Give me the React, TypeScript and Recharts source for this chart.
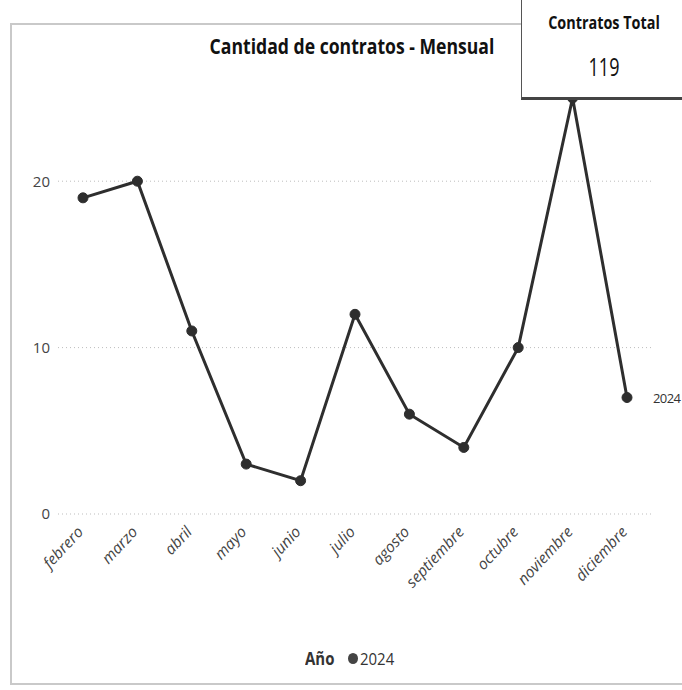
import React from "react";
import { LineChart, Line, XAxis, YAxis, CartesianGrid, Legend, LabelList } from "recharts";

const months = ["febrero", "marzo", "abril", "mayo", "junio", "julio", "agosto", "septiembre", "octubre", "noviembre", "diciembre"];
const contratos2024 = [19, 20, 11, 3, 2, 12, 6, 4, 10, 25, 7];
const yTicks = [0, 10, 20];
const seriesName = "2024";
const legendTitle = "Año";
const chartTitle = "Cantidad de contratos - Mensual";
const cardTitle = "Contratos Total";
const cardValue = 119;

const data = months.map((m, i) => ({ mes: m, v: contratos2024[i] }));

const FONT = "'Open Sans', 'DejaVu Sans', sans-serif";
const LINE = "#2e2e2e";

const XTick = (props: any) => {
  const { x, y, payload } = props;
  return (
    <g transform={`translate(${x - 7},${y + 3}) rotate(-47)`}>
      <text
        x={0}
        y={0}
        dy="0.72em"
        textAnchor="end"
        fill="#444"
        fontSize={15.5}
        fontStyle="italic"
        fontFamily={FONT}
      >
        {payload.value}
      </text>
    </g>
  );
};

const EndLabel = (props: any) => {
  const { x, y, index } = props;
  if (index !== contratos2024.length - 1) return null;
  return (
    <text x={x + 26} y={y} dy={5} fill="#333" fontSize={13} letterSpacing={-0.6} fontFamily={FONT}>
      {seriesName}
    </text>
  );
};

const LegendContent = () => (
  <div
    style={{
      height: 30,
      display: "flex",
      alignItems: "center",
      justifyContent: "center",
      paddingLeft: 20,
      fontFamily: FONT,
      fontSize: 17,
      color: "#333",
    }}
  >
    <span style={{ fontWeight: "bold", marginRight: 12, display: "inline-block", transform: "scaleX(0.88)" }}>
      {legendTitle}
    </span>
    <span
      style={{
        width: 10,
        height: 11,
        borderRadius: "50%",
        background: "#444",
        display: "inline-block",
        marginRight: 2,
      }}
    />
    <span style={{ display: "inline-block", transform: "scaleX(0.88)", transformOrigin: "left center" }}>
      {seriesName}
    </span>
  </div>
);

export default function App() {
  return (
    <div
      style={{
        position: "absolute",
        left: 0,
        top: 0,
        width: 682,
        height: 690,
        overflow: "hidden",
        background: "#fff",
      }}
    >
      <div
        style={{
          position: "absolute",
          left: 10,
          top: 23,
          width: 700,
          height: 662,
          border: "2px solid #c9c9c9",
          boxSizing: "border-box",
        }}
      />
      <div
        style={{
          position: "absolute",
          left: 352,
          top: 30,
          whiteSpace: "nowrap",
          transform: "translateX(-50%) scaleX(0.8)",
          fontFamily: FONT,
          fontWeight: "bold",
          fontSize: 22,
          color: "#111",
        }}
      >
        {chartTitle}
      </div>
      <div style={{ position: "absolute", left: 0, top: 0 }}>
        <LineChart width={682} height={690} data={data} margin={{ top: 98, right: 30, bottom: 17, left: 0 }}>
          <CartesianGrid vertical={false} horizontalValues={yTicks} stroke="#bdbdbd" strokeDasharray="1 3" />
          <XAxis
            dataKey="mes"
            axisLine={false}
            tickLine={false}
            interval={0}
            height={129}
            padding={{ left: 25, right: 25 }}
            tick={<XTick />}
          />
          <YAxis
            domain={[0, 25]}
            ticks={yTicks}
            axisLine={false}
            tickLine={false}
            width={58}
            tick={{ fill: "#444", fontSize: 15, fontFamily: FONT }}
          />
          <Legend verticalAlign="bottom" wrapperStyle={{ left: 0, width: 682 }} content={<LegendContent />} />
          <Line
            type="linear"
            dataKey="v"
            name={seriesName}
            stroke={LINE}
            strokeWidth={3}
            dot={{ r: 5, fill: LINE, stroke: LINE, strokeWidth: 1 }}
            isAnimationActive={false}
          >
            <LabelList dataKey="v" content={<EndLabel />} />
          </Line>
        </LineChart>
      </div>
      <div
        style={{
          position: "absolute",
          left: 521,
          top: -2,
          width: 165,
          height: 102,
          background: "#fff",
          border: "1px solid #555",
          borderBottom: "3px solid #444",
          boxSizing: "border-box",
          fontFamily: FONT,
          color: "#111",
        }}
      >
        <div
          style={{
            position: "absolute",
            left: 82,
            top: 11,
            whiteSpace: "nowrap",
            transform: "translateX(-50%) scaleX(0.8)",
            fontSize: 18,
            fontWeight: "bold",
          }}
        >
          {cardTitle}
        </div>
        <div
          style={{
            position: "absolute",
            left: 82,
            top: 50,
            whiteSpace: "nowrap",
            transform: "translateX(-50%) scaleX(0.72)",
            fontSize: 25,
          }}
        >
          {cardValue}
        </div>
      </div>
    </div>
  );
}
